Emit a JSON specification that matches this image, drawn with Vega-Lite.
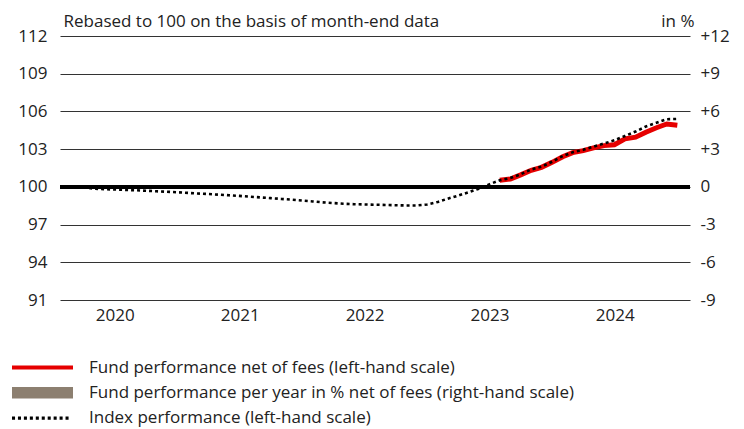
{
  "$schema": "https://vega.github.io/schema/vega-lite/v6.json",
  "width": 630,
  "height": 264,
  "autosize": "none",
  "padding": {"left": 60, "top": 36, "right": 54, "bottom": 129},
  "background": "white",
  "config": {
    "view": {"stroke": null},
    "font": "Open Sans",
    "axis": {"labelFont": "Open Sans", "labelFontSize": 17, "labelColor": "#222", "titleFont": "Open Sans", "titleFontSize": 17, "titleFontWeight": "normal", "titleColor": "#222"}
  },
  "data": {
    "values": [
      {"date": "2020-03-31", "series": "Index performance (left-hand scale)", "value": 100.0},
      {"date": "2020-04-30", "series": "Index performance (left-hand scale)", "value": 99.85},
      {"date": "2020-05-31", "series": "Index performance (left-hand scale)", "value": 99.82},
      {"date": "2020-06-30", "series": "Index performance (left-hand scale)", "value": 99.79},
      {"date": "2020-07-31", "series": "Index performance (left-hand scale)", "value": 99.76},
      {"date": "2020-08-31", "series": "Index performance (left-hand scale)", "value": 99.73},
      {"date": "2020-09-30", "series": "Index performance (left-hand scale)", "value": 99.69},
      {"date": "2020-10-31", "series": "Index performance (left-hand scale)", "value": 99.65},
      {"date": "2020-11-30", "series": "Index performance (left-hand scale)", "value": 99.61},
      {"date": "2020-12-31", "series": "Index performance (left-hand scale)", "value": 99.57},
      {"date": "2021-01-31", "series": "Index performance (left-hand scale)", "value": 99.52},
      {"date": "2021-02-28", "series": "Index performance (left-hand scale)", "value": 99.47},
      {"date": "2021-03-31", "series": "Index performance (left-hand scale)", "value": 99.43},
      {"date": "2021-04-30", "series": "Index performance (left-hand scale)", "value": 99.38},
      {"date": "2021-05-31", "series": "Index performance (left-hand scale)", "value": 99.33},
      {"date": "2021-06-30", "series": "Index performance (left-hand scale)", "value": 99.28},
      {"date": "2021-07-31", "series": "Index performance (left-hand scale)", "value": 99.22},
      {"date": "2021-08-31", "series": "Index performance (left-hand scale)", "value": 99.16},
      {"date": "2021-09-30", "series": "Index performance (left-hand scale)", "value": 99.10},
      {"date": "2021-10-31", "series": "Index performance (left-hand scale)", "value": 99.04},
      {"date": "2021-11-30", "series": "Index performance (left-hand scale)", "value": 98.98},
      {"date": "2021-12-31", "series": "Index performance (left-hand scale)", "value": 98.91},
      {"date": "2022-01-31", "series": "Index performance (left-hand scale)", "value": 98.84},
      {"date": "2022-02-28", "series": "Index performance (left-hand scale)", "value": 98.77},
      {"date": "2022-03-31", "series": "Index performance (left-hand scale)", "value": 98.71},
      {"date": "2022-04-30", "series": "Index performance (left-hand scale)", "value": 98.66},
      {"date": "2022-05-31", "series": "Index performance (left-hand scale)", "value": 98.62},
      {"date": "2022-06-30", "series": "Index performance (left-hand scale)", "value": 98.60},
      {"date": "2022-07-31", "series": "Index performance (left-hand scale)", "value": 98.58},
      {"date": "2022-08-31", "series": "Index performance (left-hand scale)", "value": 98.56},
      {"date": "2022-09-30", "series": "Index performance (left-hand scale)", "value": 98.54},
      {"date": "2022-10-31", "series": "Index performance (left-hand scale)", "value": 98.52},
      {"date": "2022-11-30", "series": "Index performance (left-hand scale)", "value": 98.52},
      {"date": "2022-12-31", "series": "Index performance (left-hand scale)", "value": 98.60},
      {"date": "2023-01-31", "series": "Index performance (left-hand scale)", "value": 98.80},
      {"date": "2023-02-28", "series": "Index performance (left-hand scale)", "value": 99.05},
      {"date": "2023-03-31", "series": "Index performance (left-hand scale)", "value": 99.30},
      {"date": "2023-04-30", "series": "Index performance (left-hand scale)", "value": 99.56},
      {"date": "2023-05-31", "series": "Index performance (left-hand scale)", "value": 99.85},
      {"date": "2023-06-30", "series": "Index performance (left-hand scale)", "value": 100.20},
      {"date": "2023-07-31", "series": "Index performance (left-hand scale)", "value": 100.52},
      {"date": "2023-08-31", "series": "Index performance (left-hand scale)", "value": 100.70},
      {"date": "2023-09-30", "series": "Index performance (left-hand scale)", "value": 101.00},
      {"date": "2023-10-31", "series": "Index performance (left-hand scale)", "value": 101.38},
      {"date": "2023-11-30", "series": "Index performance (left-hand scale)", "value": 101.60},
      {"date": "2023-12-31", "series": "Index performance (left-hand scale)", "value": 102.00},
      {"date": "2024-01-31", "series": "Index performance (left-hand scale)", "value": 102.45},
      {"date": "2024-02-29", "series": "Index performance (left-hand scale)", "value": 102.75},
      {"date": "2024-03-31", "series": "Index performance (left-hand scale)", "value": 102.95},
      {"date": "2024-04-30", "series": "Index performance (left-hand scale)", "value": 103.20},
      {"date": "2024-05-31", "series": "Index performance (left-hand scale)", "value": 103.45},
      {"date": "2024-06-30", "series": "Index performance (left-hand scale)", "value": 103.70},
      {"date": "2024-07-31", "series": "Index performance (left-hand scale)", "value": 104.05},
      {"date": "2024-08-31", "series": "Index performance (left-hand scale)", "value": 104.40},
      {"date": "2024-09-30", "series": "Index performance (left-hand scale)", "value": 104.80},
      {"date": "2024-10-31", "series": "Index performance (left-hand scale)", "value": 105.10},
      {"date": "2024-11-30", "series": "Index performance (left-hand scale)", "value": 105.38},
      {"date": "2024-12-31", "series": "Index performance (left-hand scale)", "value": 105.40},
      {"date": "2023-07-31", "series": "Fund performance net of fees (left-hand scale)", "value": 100.52},
      {"date": "2023-08-31", "series": "Fund performance net of fees (left-hand scale)", "value": 100.62},
      {"date": "2023-09-30", "series": "Fund performance net of fees (left-hand scale)", "value": 100.95},
      {"date": "2023-10-31", "series": "Fund performance net of fees (left-hand scale)", "value": 101.32},
      {"date": "2023-11-30", "series": "Fund performance net of fees (left-hand scale)", "value": 101.55},
      {"date": "2023-12-31", "series": "Fund performance net of fees (left-hand scale)", "value": 101.95},
      {"date": "2024-01-31", "series": "Fund performance net of fees (left-hand scale)", "value": 102.40},
      {"date": "2024-02-29", "series": "Fund performance net of fees (left-hand scale)", "value": 102.72},
      {"date": "2024-03-31", "series": "Fund performance net of fees (left-hand scale)", "value": 102.88},
      {"date": "2024-04-30", "series": "Fund performance net of fees (left-hand scale)", "value": 103.10},
      {"date": "2024-05-31", "series": "Fund performance net of fees (left-hand scale)", "value": 103.28},
      {"date": "2024-06-30", "series": "Fund performance net of fees (left-hand scale)", "value": 103.35},
      {"date": "2024-07-31", "series": "Fund performance net of fees (left-hand scale)", "value": 103.82},
      {"date": "2024-08-31", "series": "Fund performance net of fees (left-hand scale)", "value": 103.95},
      {"date": "2024-09-30", "series": "Fund performance net of fees (left-hand scale)", "value": 104.35},
      {"date": "2024-10-31", "series": "Fund performance net of fees (left-hand scale)", "value": 104.70},
      {"date": "2024-11-30", "series": "Fund performance net of fees (left-hand scale)", "value": 105.00},
      {"date": "2024-12-31", "series": "Fund performance net of fees (left-hand scale)", "value": 104.90}
    ]
  },
  "resolve": {"axis": {"y": "independent"}},
  "layer": [
    {
      "mark": {"type": "rule", "stroke": "#000", "strokeWidth": 3},
      "encoding": {
        "y": {
          "datum": 100,
          "type": "quantitative",
          "scale": {"domain": [91, 112], "nice": false, "zero": false},
          "axis": {
            "orient": "right",
            "values": [91, 94, 97, 100, 103, 106, 109, 112],
            "labelExpr": "datum.value > 100 ? '+' + (datum.value - 100) : '' + (datum.value - 100)",
            "ticks": false,
            "domain": false,
            "grid": false,
            "labelPadding": 10,
            "labelAlign": "left",
            "title": "in %",
            "titleAngle": 0,
            "titleAlign": "right",
            "titleBaseline": "alphabetic",
            "titleX": 4,
            "titleY": -10
          }
        }
      }
    },
    {
      "transform": [{"filter": "datum.series === 'Fund performance net of fees (left-hand scale)'"}],
      "mark": {"type": "line", "strokeWidth": 5, "strokeCap": "butt", "strokeJoin": "miter"},
      "encoding": {
        "x": {
          "field": "date",
          "type": "temporal",
          "scale": {"domain": [{"year": 2020, "month": 1, "date": 23}, {"year": 2025, "month": 2, "date": 6}]},
          "axis": {
            "values": [{"year": 2020, "month": 7, "date": 1}, {"year": 2021, "month": 7, "date": 1}, {"year": 2022, "month": 7, "date": 1}, {"year": 2023, "month": 7, "date": 1}, {"year": 2024, "month": 7, "date": 1}],
            "format": "%Y",
            "ticks": false,
            "domain": false,
            "grid": false,
            "labelPadding": 7,
            "title": null
          }
        },
        "y": {
          "field": "value",
          "type": "quantitative",
          "axis": {
            "orient": "left",
            "values": [91, 94, 97, 100, 103, 106, 109, 112],
            "ticks": false,
            "domain": false,
            "grid": true,
            "gridColor": "#333",
            "gridWidth": 1,
            "labelPadding": 13,
            "title": "Rebased to 100 on the basis of month-end data",
            "titleAngle": 0,
            "titleAlign": "left",
            "titleBaseline": "alphabetic",
            "titleX": 3,
            "titleY": -10
          }
        },
        "color": {
          "field": "series",
          "type": "nominal",
          "scale": {
            "domain": ["Fund performance net of fees (left-hand scale)", "Fund performance per year in % net of fees (right-hand scale)", "Index performance (left-hand scale)"],
            "range": ["#E60000", "#8C7F70", "#000000"]
          },
          "legend": {
            "title": null,
            "orient": "none",
            "direction": "vertical",
            "legendX": -48,
            "legendY": 319,
            "padding": 0,
            "symbolSize": 3721,
            "clipHeight": 25,
            "rowPadding": 0.3,
            "labelOffset": 16,
            "labelFont": "Open Sans",
            "labelFontSize": 17,
            "labelColor": "#222",
            "labelLimit": 0,
            "encode": {
              "symbols": {
                "update": {
                  "shape": {"signal": "datum.value === 'Index performance (left-hand scale)' ? 'M-1,-0.05h0.1v0.1h-0.1Z M-0.805,-0.05h0.1v0.1h-0.1Z M-0.61,-0.05h0.1v0.1h-0.1Z M-0.415,-0.05h0.1v0.1h-0.1Z M-0.22,-0.05h0.1v0.1h-0.1Z M-0.025,-0.05h0.1v0.1h-0.1Z M0.17,-0.05h0.1v0.1h-0.1Z M0.365,-0.05h0.1v0.1h-0.1Z M0.56,-0.05h0.1v0.1h-0.1Z M0.755,-0.05h0.1v0.1h-0.1Z' : (datum.value === 'Fund performance net of fees (left-hand scale)' ? 'M-1,-0.066H1V0.066H-1Z' : 'M-1,-0.19H1V0.19H-1Z')"},
                  "fill": {"signal": "datum.value === 'Index performance (left-hand scale)' ? '#000000' : (datum.value === 'Fund performance net of fees (left-hand scale)' ? '#E60000' : '#8C7F70')"},
                  "fillOpacity": {"value": 1},
                  "strokeWidth": {"value": 0},
                  "opacity": {"value": 1}
                }
              }
            }
          }
        }
      }
    },
    {
      "transform": [{"filter": "datum.series === 'Index performance (left-hand scale)'"}],
      "mark": {"type": "line", "strokeWidth": 2.6, "strokeDash": [3, 3], "strokeCap": "butt"},
      "encoding": {
        "x": {"field": "date", "type": "temporal"},
        "y": {"field": "value", "type": "quantitative", "axis": null},
        "color": {"field": "series", "type": "nominal"}
      }
    }
  ]
}
